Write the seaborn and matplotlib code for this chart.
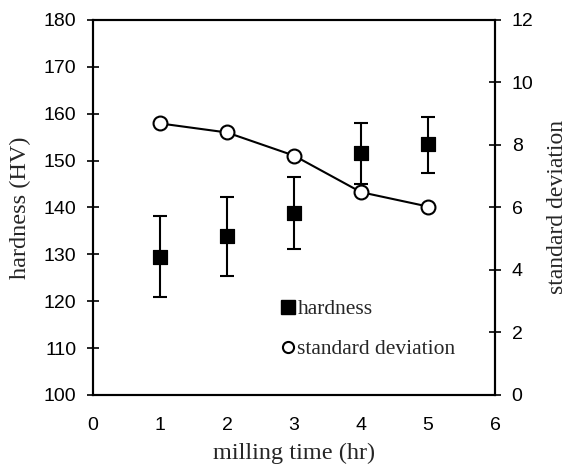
import matplotlib
matplotlib.use("Agg")
import matplotlib.pyplot as plt
import seaborn as sns
import pandas as pd
from matplotlib.lines import Line2D

milling_time = [1, 2, 3, 4, 5]
hardness = [129.5, 133.9, 138.9, 151.6, 153.5]
hardness_low = [120.8, 125.4, 131.1, 145.0, 147.3]
hardness_high = [138.2, 142.2, 146.4, 158.0, 159.2]
std_dev = [8.69, 8.40, 7.66, 6.49, 6.03]

x_ticks = [0, 1, 2, 3, 4, 5, 6]
left_ticks = [100, 110, 120, 130, 140, 150, 160, 170, 180]
right_ticks = [0, 2, 4, 6, 8, 10, 12]

sns.set_theme(style="white")
plt.rcParams["font.family"] = ["Liberation Sans", "DejaVu Sans"]

df = pd.DataFrame({"t": milling_time, "h": hardness, "lo": hardness_low,
                   "hi": hardness_high, "sd": std_dev})

fig = plt.figure(figsize=(5.68, 4.67), dpi=100)
ax = fig.add_axes([0.1637, 0.1542, 0.7078, 0.803])
ax2 = ax.twinx()

# hardness with error bars
yerr = [df["h"] - df["lo"], df["hi"] - df["h"]]
ax.errorbar(df["t"], df["h"], yerr=yerr, fmt="none", ecolor="black",
            elinewidth=1.5, capsize=5, capthick=1.5, zorder=2)
sns.scatterplot(data=df, x="t", y="h", ax=ax, marker="s", s=115,
                color="black", edgecolor="black", zorder=3, legend=False)

# standard deviation line
sns.lineplot(data=df, x="t", y="sd", ax=ax2, color="black", lw=1.5,
             marker="o", markersize=10, markerfacecolor="white",
             markeredgecolor="black", markeredgewidth=1.5, legend=False)

ax.set_xlim(0, 6)
ax.set_ylim(100, 180)
ax2.set_ylim(0, 12)
ax.set_xticks(x_ticks)
ax.set_yticks(left_ticks)
ax2.set_yticks(right_ticks)

for a in (ax, ax2):
    for s in a.spines.values():
        s.set_color("black")
        s.set_linewidth(1.5)
    a.tick_params(direction="inout", length=8, width=1.2, colors="black",
                  labelsize=14)
ax.tick_params(axis="x", pad=12)
ax.tick_params(axis="y", pad=8, right=False)
ax2.tick_params(axis="y", pad=8)

serif = ["Liberation Serif", "DejaVu Serif"]
ax.set_xlabel("milling time (hr)", family=serif, fontsize=17.5)
ax.set_ylabel("hardness (HV)", family=serif, fontsize=17.5)
ax2.set_ylabel("standard deviation", family=serif, fontsize=17,
               rotation=90)
ax.xaxis.set_label_coords(0.5, -0.128)
ax.yaxis.set_label_coords(-0.155, 0.5)
ax2.yaxis.set_label_coords(1.129, 0.5)

handles = [
    Line2D([], [], ls="none", marker="s", markersize=9.5, color="black"),
    Line2D([], [], ls="none", marker="o", markersize=8, markerfacecolor="white",
           markeredgecolor="black", markeredgewidth=1.5),
]
ax.legend(handles, ["hardness", "standard deviation"], loc="lower left",
          bbox_to_anchor=(0.42, 0.043), frameon=False, handlelength=0.6,
          handletextpad=0.15, labelspacing=0.94,
          prop={"family": serif, "size": 15.5})

fig.savefig("out.png", dpi=100)
